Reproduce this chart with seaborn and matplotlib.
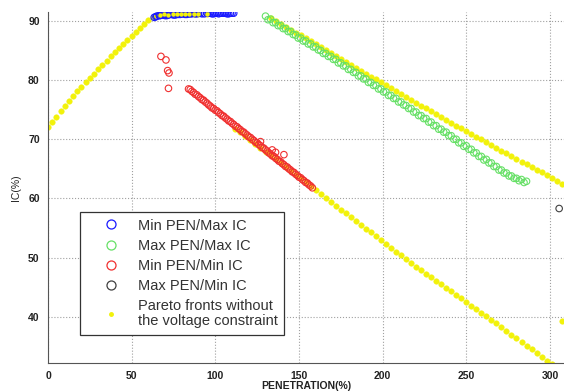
import matplotlib
matplotlib.use("Agg")
import matplotlib.pyplot as plt
from matplotlib.lines import Line2D
import seaborn as sns
import pandas as pd

# ---------------- data ----------------
# Min PEN / Max IC (blue)
blue_x = [63.5, 65, 66.5, 68, 70, 72, 74, 76, 78, 80, 82, 84, 86, 88, 90, 92, 95, 97,
          99, 101, 103, 105, 107, 109, 111,
          64.5, 67, 69, 71, 73, 75, 77, 79, 81, 83, 85, 87, 89, 91, 93.5, 96, 98, 100,
          102, 104, 106, 108, 110]
blue_y = [90.6, 90.8, 90.9, 91.0, 90.9, 91.0, 91.1, 91.0, 91.1, 91.2, 91.1, 91.2, 91.2,
          91.2, 91.3, 91.2, 91.3, 91.3, 91.2, 91.3, 91.3, 91.3, 91.2, 91.3, 91.3,
          90.7, 90.9, 91.0, 90.9, 91.1, 91.0, 91.1, 91.1, 91.2, 91.1, 91.2, 91.3, 91.2,
          91.3, 91.2, 91.3, 91.2, 91.3, 91.2, 91.3, 91.3, 91.2, 91.3]

# Max PEN / Max IC (green)
green_x = [130, 133, 136, 139, 142, 145, 148, 151, 154, 157, 160, 163, 166, 169, 172, 175,
           178, 181, 184, 187, 190, 193, 196, 199, 202, 205, 208, 211, 214, 217, 220, 223,
           226, 229, 232, 235, 238, 241, 244, 247, 250, 253, 256, 259, 262, 265, 268, 271,
           274, 277, 280, 283, 286,
           131.5, 134.5, 137.5, 140.5, 143.5, 146.5, 149.5, 152.5, 155.5, 158.5, 161.5,
           164.5, 167.5, 170.5, 173.5, 176.5, 179.5, 182.5, 185.5, 188.5, 191.5, 194.5,
           197.5, 200.5, 203.5, 206.5, 209.5, 212.5, 215.5, 218.5, 221.5, 224.5, 227.5,
           230.5, 233.5, 236.5, 239.5, 242.5, 245.5, 248.5, 251.5, 254.5, 257.5, 260.5,
           263.5, 266.5, 269.5, 272.5, 275.5, 278.5, 281.5, 284.5]
green_y = [90.8, 90.3, 89.7, 89.2, 88.7, 88.2, 87.6, 87.1, 86.6, 86.1, 85.6, 85.0, 84.5,
           84.0, 83.5, 82.9, 82.4, 81.8, 81.3, 80.7, 80.2, 79.6, 79.1, 78.5, 78.0, 77.4,
           76.9, 76.3, 75.7, 75.2, 74.6, 74.0, 73.5, 72.9, 72.3, 71.7, 71.2, 70.6, 70.0,
           69.4, 68.9, 68.3, 67.7, 67.1, 66.6, 66.0, 65.4, 64.8, 64.3, 63.8, 63.4, 63.2, 62.9,
           90.2, 89.7, 89.2, 88.7, 88.2, 87.7, 87.1, 86.6, 86.1, 85.6, 85.1, 84.5, 84.0,
           83.5, 82.9, 82.4, 81.8, 81.3, 80.7, 80.2, 79.6, 79.1, 78.5, 78.0, 77.4, 76.9,
           76.3, 75.8, 75.2, 74.6, 74.0, 73.5, 72.9, 72.3, 71.7, 71.2, 70.6, 70.0, 69.4,
           68.8, 68.3, 67.7, 67.1, 66.5, 66.0, 65.4, 64.8, 64.3, 63.8, 63.4, 63.0, 62.7]

# Min PEN / Min IC (red)
red_x = [67.5, 70.5, 71.5, 72.3, 72.0,
         84, 86, 88, 90, 92, 94, 96, 98, 100, 102, 104, 106, 108, 110, 112, 114, 116, 118,
         120, 122, 124, 126, 128, 130, 132, 134, 136, 138, 140, 142, 144, 146, 148, 150,
         152, 154, 156, 158, 127, 134, 136, 141,
         85, 87, 89, 91, 93, 95, 97, 99, 101, 103, 105, 107, 109, 111, 113, 115, 117, 119,
         121, 123, 125, 127, 129, 131, 133, 135, 137, 139, 141, 143, 145, 147, 149, 151,
         153, 155, 157]
red_y = [84.0, 83.4, 81.6, 81.2, 78.6,
         78.5, 78.1, 77.6, 77.2, 76.7, 76.3, 75.8, 75.3, 74.9, 74.5, 74.0, 73.6, 73.1, 72.7,
         72.2, 71.8, 71.3, 70.9, 70.4, 70.0, 69.5, 69.1, 68.6, 68.2, 67.7, 67.2, 66.8, 66.3,
         65.9, 65.4, 65.0, 64.5, 64.1, 63.6, 63.2, 62.7, 62.3, 61.8, 69.6, 68.2, 67.8, 67.4,
         78.4, 77.9, 77.5, 77.0, 76.6, 76.1, 75.6, 75.2, 74.8, 74.3, 73.9, 73.4, 73.0,
         72.5, 72.1, 71.6, 71.2, 70.7, 70.3, 69.8, 69.4, 68.9, 68.5, 68.0, 67.5, 67.1,
         66.6, 66.2, 65.7, 65.3, 64.8, 64.4, 63.9, 63.5, 63.0, 62.6, 62.1]

# Max PEN / Min IC (black)
black_x = [305.5]
black_y = [58.3]

# Pareto fronts without the voltage constraint (yellow)
yellow_x = [0, 2.5, 5, 7.5, 10, 12.5, 15, 17.5, 20, 22.5, 25, 27.5, 30, 32.5, 35, 37.5, 40,
            42.5, 45, 47.5, 50, 52.5, 55, 57.5, 60, 62.5, 65,
            67, 69.5, 72, 74.5, 77, 79.5, 82, 84.5, 87, 89.5, 95,
            133, 136, 139, 142, 145, 148, 151, 154, 157, 160, 163, 166, 169, 172, 175, 178,
            181, 184, 187, 190, 193, 196, 199, 202, 205, 208, 211, 214, 217, 220, 223, 226,
            229, 232, 235, 238, 241, 244, 247, 250, 253, 256, 259, 262, 265, 268, 271, 274,
            277, 280, 283, 286, 289, 292, 295, 298, 301, 304, 307,
            112, 115, 118, 121, 124, 127, 130, 133, 136, 139, 142, 145, 148, 151, 154, 157,
            160, 163, 166, 169, 172, 175, 178, 181, 184, 187, 190, 193, 196, 199, 202, 205,
            208, 211, 214, 217, 220, 223, 226, 229, 232, 235, 238, 241, 244, 247, 250, 253,
            256, 259, 262, 265, 268, 271, 274, 277, 280, 283, 286, 289, 292, 295, 298, 301,
            307.5]
yellow_y = [72.0, 72.9, 73.8, 74.7, 75.6, 76.5, 77.3, 78.1, 78.9, 79.6, 80.4, 81.1, 81.9,
            82.6, 83.3, 84.0, 84.7, 85.4, 86.1, 86.8, 87.5, 88.1, 88.8, 89.5, 90.1, 90.7, 91.0,
            91.0, 91.1, 91.0, 91.1, 91.2, 91.1, 91.2, 91.2, 91.2, 91.1, 91.2,
            90.5, 90.0, 89.5, 89.0, 88.5, 88.0, 87.6, 87.1, 86.6, 86.1, 85.6, 85.1, 84.6,
            84.1, 83.6, 83.1, 82.6, 82.1, 81.6, 81.1, 80.6, 80.1, 79.6, 79.1, 78.6, 78.1,
            77.6, 77.1, 76.6, 76.2, 75.7, 75.2, 74.7, 74.2, 73.8, 73.3, 72.8, 72.3, 71.9,
            71.4, 70.9, 70.4, 70.0, 69.5, 69.0, 68.6, 68.1, 67.6, 67.2, 66.7, 66.2, 65.8,
            65.3, 64.8, 64.4, 63.9, 63.4, 62.9, 62.5,
            71.8, 71.2, 70.5, 69.9, 69.2, 68.6, 67.9, 67.3, 66.6, 66.0, 65.3, 64.7, 64.0,
            63.4, 62.7, 62.1, 61.4, 60.7, 60.1, 59.4, 58.8, 58.1, 57.5, 56.8, 56.2, 55.5,
            54.9, 54.3, 53.6, 53.0, 52.3, 51.7, 51.0, 50.4, 49.7, 49.1, 48.5, 47.9, 47.3,
            46.7, 46.1, 45.5, 44.9, 44.3, 43.7, 43.1, 42.5, 41.9, 41.3, 40.7, 40.1, 39.5,
            38.9, 38.3, 37.6, 37.0, 36.4, 35.8, 35.1, 34.5, 33.9, 33.2, 32.6, 32.0,
            39.3]

labels = ["Min PEN/Max IC", "Max PEN/Max IC", "Min PEN/Min IC", "Max PEN/Min IC",
          "Pareto fronts without\nthe voltage constraint"]
x_ticks = [0, 50, 100, 150, 200, 250, 300]
y_ticks = [40, 50, 60, 70, 80, 90]

# ---------------- figure ----------------
sns.set_style("white")
plt.rcParams["font.family"] = ["Liberation Sans", "DejaVu Sans"]

fig = plt.figure(figsize=(5.64, 3.91), dpi=100)
ax = fig.add_axes([48 / 564, 28 / 391, 516 / 564, 351 / 391])

col_blue = "#1a1aff"
col_green = "#66e066"
col_red = "#f03030"
col_black = "#404040"
col_yellow = "#f2f20a"

circ = dict(marker="o", s=22, linewidth=0.8, facecolors="none", legend=False, ax=ax)

sns.scatterplot(x=yellow_x, y=yellow_y, marker="o", s=16, color=col_yellow,
                edgecolor=col_yellow, linewidth=0.3, legend=False, ax=ax, zorder=2)
sns.scatterplot(x=green_x, y=green_y, edgecolor=col_green, zorder=3, **circ)
sns.scatterplot(x=red_x, y=red_y, edgecolor=col_red, zorder=3, **circ)
sns.scatterplot(x=blue_x, y=blue_y, edgecolor=col_blue, zorder=3, **circ)
sns.scatterplot(x=black_x, y=black_y, edgecolor=col_black, zorder=3, **circ)
# yellow re-drawn on top where the fronts overlap the blue band
sns.scatterplot(x=yellow_x[27:38], y=yellow_y[27:38], marker="o", s=10, color=col_yellow,
                linewidth=0, legend=False, ax=ax, zorder=4)

ax.set_xlim(0, 308.4)
ax.set_ylim(32.2, 91.5)
ax.set_xticks(x_ticks)
ax.set_yticks(y_ticks)
ax.set_xticklabels([str(v) for v in x_ticks], fontsize=7.5, fontweight="bold")
ax.set_yticklabels([str(v) for v in y_ticks], fontsize=7.5, fontweight="bold")
ax.tick_params(axis="both", direction="in", length=3, width=0.6, color="#555555",
               pad=6, labelcolor="#222222")
ax.grid(True, linestyle=":", linewidth=0.8, color="#a0a0a0")
for side in ["top", "right"]:
    ax.spines[side].set_visible(False)
for side in ["left", "bottom"]:
    ax.spines[side].set_color("#555555")
    ax.spines[side].set_linewidth(0.8)

ax.set_xlabel("PENETRATION(%)", fontsize=7.5, fontweight="bold", labelpad=0,
              color="#222222")
ax.set_ylabel("IC(%)", fontsize=7.5, labelpad=5, color="#222222")

handles = [
    Line2D([], [], linestyle="none", marker="o", markersize=6.5, markerfacecolor="none",
           markeredgecolor=col_blue, markeredgewidth=0.9),
    Line2D([], [], linestyle="none", marker="o", markersize=6.5, markerfacecolor="none",
           markeredgecolor=col_green, markeredgewidth=0.9),
    Line2D([], [], linestyle="none", marker="o", markersize=6.5, markerfacecolor="none",
           markeredgecolor=col_red, markeredgewidth=0.9),
    Line2D([], [], linestyle="none", marker="o", markersize=6.5, markerfacecolor="none",
           markeredgecolor=col_black, markeredgewidth=0.9),
    Line2D([], [], linestyle="none", marker="o", markersize=2.5, markerfacecolor=col_yellow,
           markeredgecolor=col_yellow),
]
leg = ax.legend(handles, labels, loc="upper left", bbox_to_anchor=(32 / 516, 151 / 351),
                borderaxespad=0, fontsize=10.5, frameon=True, fancybox=False,
                edgecolor="#333333", framealpha=1, borderpad=0.45, handlelength=3.4,
                handletextpad=0.1, labelspacing=0.42)
leg.get_frame().set_linewidth(0.9)
for t in leg.get_texts():
    t.set_color("#333333")
    t.set_linespacing(1.1)

fig.savefig("out.png", dpi=100)
